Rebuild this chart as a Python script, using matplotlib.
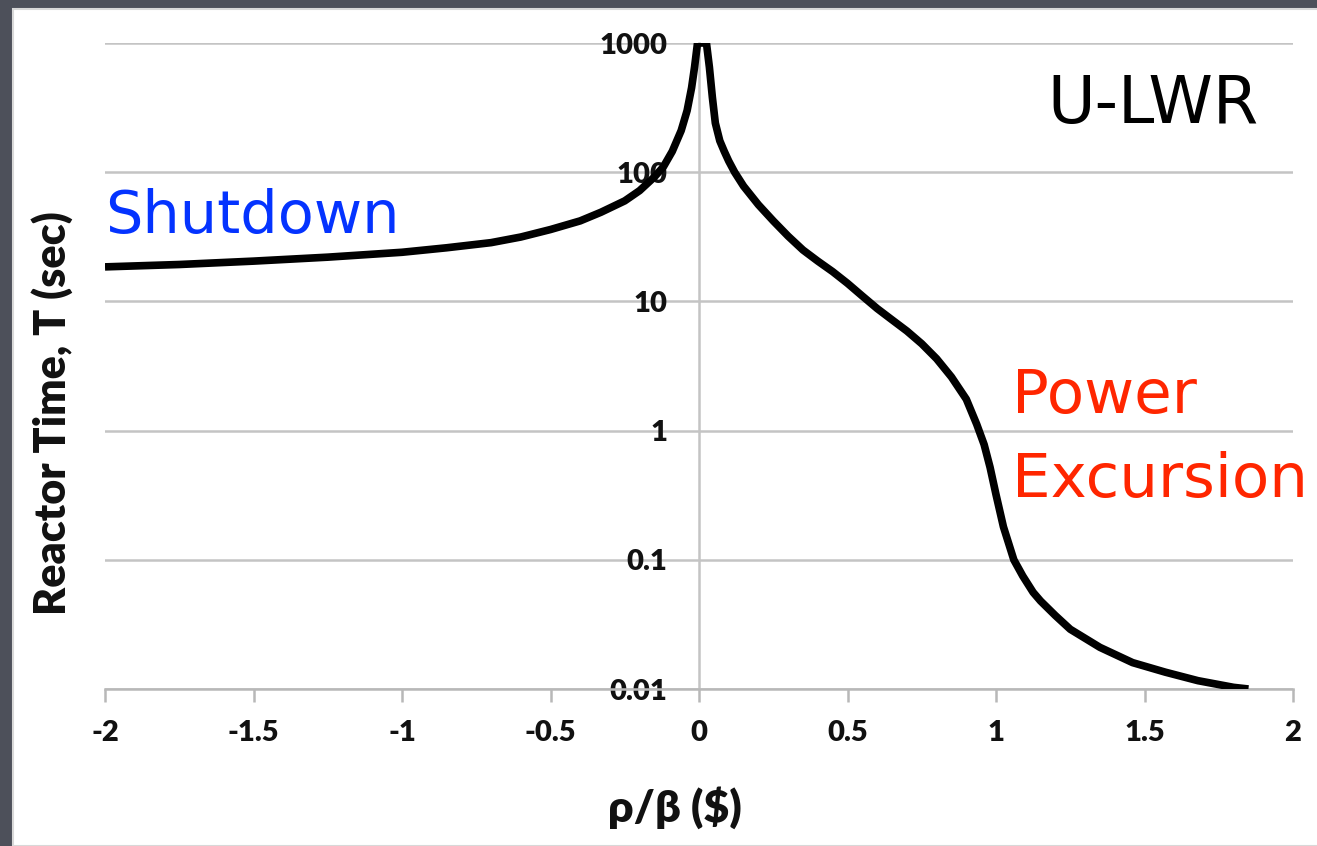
import numpy as np
import matplotlib.pyplot as plt
from matplotlib.patches import Rectangle
from matplotlib.ticker import NullLocator

# reactivity in dollars and reactor period (s)
rho_neg = [-2.0, -1.75, -1.5, -1.25, -1.0, -0.85, -0.7, -0.6, -0.5, -0.4,
           -0.33, -0.25, -0.2, -0.15, -0.12, -0.09, -0.06, -0.04, -0.025,
           -0.015, -0.005]
T_neg = [18.5, 19.3, 20.5, 22.0, 24.0, 26.0, 28.5, 31.5, 36.0, 42.0,
         49.0, 60.0, 72.0, 92.0, 110.0, 145.0, 210.0, 300.0, 450.0,
         650.0, 1000.0]

rho_pos = [0.025, 0.035, 0.045, 0.055, 0.07, 0.085, 0.1, 0.12, 0.15, 0.2,
           0.25, 0.3, 0.35, 0.4, 0.45, 0.5, 0.55, 0.6, 0.65, 0.7, 0.75,
           0.8, 0.85, 0.9, 0.935, 0.96, 0.98, 1.0, 1.025, 1.06, 1.09,
           1.125, 1.15, 1.2, 1.25, 1.35, 1.46, 1.57, 1.68, 1.8, 1.85]
T_pos = [1000.0, 650.0, 380.0, 240.0, 175.0, 145.0, 122.0, 100.0, 78.0,
         56.0, 42.0, 32.0, 25.0, 20.5, 17.0, 13.8, 11.0, 8.8, 7.2, 5.9,
         4.7, 3.6, 2.6, 1.75, 1.12, 0.78, 0.52, 0.32, 0.18, 0.1, 0.075,
         0.056, 0.048, 0.037, 0.029, 0.021, 0.016, 0.0135, 0.0116, 0.0103,
         0.01]

x_ticks = [-2, -1.5, -1, -0.5, 0, 0.5, 1, 1.5, 2]
x_labels = ["-2", "-1.5", "-1", "-0.5", "0", "0.5", "1", "1.5", "2"]
y_ticks = [0.01, 0.1, 1, 10, 100, 1000]
y_labels = ["0.01", "0.1", "1", "10", "100", "1000"]

W, H = 1317, 846
fig = plt.figure(figsize=(W / 100, H / 100), dpi=100)
fig.patch.set_facecolor("#4d505a")
fig.patches.append(Rectangle((13 / W, 0), 1, 1 - 9 / H, transform=fig.transFigure,
                             facecolor="white", edgecolor="#d8d8d8", lw=1.5, zorder=-5))

ax = fig.add_axes([105 / W, 1 - 689 / H, (1293 - 105) / W, (689 - 43) / H])
ax.set_facecolor("none")
ax.set_zorder(2)

rho = np.concatenate([rho_neg, rho_pos])
T = np.concatenate([T_neg, T_pos])
ax.plot(rho, T, color="black", lw=5.5, solid_capstyle="butt", zorder=5)

ax.set_yscale("log")
ax.set_xlim(-2, 2)
ax.set_ylim(0.01, 1000)
ax.set_xticks(x_ticks)
ax.set_xticklabels(x_labels)
ax.set_yticks(y_ticks)
ax.set_yticklabels(y_labels)
ax.yaxis.set_minor_locator(NullLocator())
ax.grid(axis="y", color="#c4c4c4", lw=1.8, zorder=1)

grey = "#b8b8b8"
for s in ["top", "right"]:
    ax.spines[s].set_visible(False)
ax.spines["left"].set_position(("data", 0))
ax.spines["left"].set_color("#c4c4c4")
ax.spines["left"].set_linewidth(1.8)
ax.spines["bottom"].set_color(grey)
ax.spines["bottom"].set_linewidth(1.8)
ax.tick_params(axis="y", length=0, pad=23)
ax.tick_params(axis="x", length=9, width=1.8, color=grey, pad=13)
for lab in ax.get_xticklabels() + ax.get_yticklabels():
    lab.set_fontfamily("Lato")
    lab.set_fontweight("heavy")
    lab.set_fontsize(21)
    lab.set_color("#111111")

fig.text(52 / W, 1 - 413 / H, "Reactor Time, T (sec)", rotation=90, ha="center",
         va="center", family="Lato", weight="heavy", fontsize=31, color="#111111")
fig.text(675 / W, 1 - 808 / H, "ρ/β ($)", ha="center", va="center",
         family="Lato", weight="heavy", fontsize=32, color="#111111")

fig.text(105 / W, 1 - 233 / H, "Shutdown", color="#0433ff", fontsize=42.5, va="baseline")
fig.text(1047 / W, 1 - 123 / H, "U-LWR", color="black", fontsize=47, va="baseline")
fig.text(1012 / W, 1 - 413 / H, "Power", color="#ff2600", fontsize=44, va="baseline")
fig.text(1012 / W, 1 - 497 / H, "Excursion", color="#ff2600", fontsize=44, va="baseline")

fig.savefig("out.png", dpi=100, facecolor=fig.get_facecolor())
